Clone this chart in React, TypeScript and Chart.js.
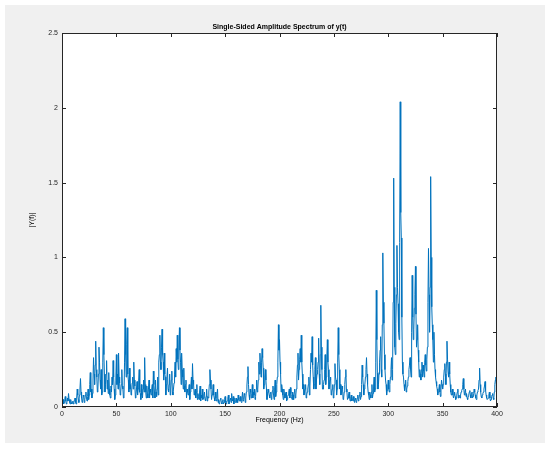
import { useEffect, useRef } from "react";
import { Chart, registerables } from "chart.js";

Chart.register(...registerables);

const TITLE = "Single-Sided Amplitude Spectrum of y(t)";
const X_LABEL = "Frequency (Hz)";
const Y_LABEL = "|Y(f)|";
const X_TICKS = [0, 50, 100, 150, 200, 250, 300, 350, 400];
const Y_TICKS = [0, 0.5, 1, 1.5, 2, 2.5];
const FREQ_STEP_HZ = 1;
const HALF_STEP_HZ = 0.5;

// |Y(f)| at whole Hz (0..400)
const AMP_000_099 = [
  0.02, 0.05, 0.03, 0.07, 0.02, 0.06, 0.09, 0.03, 0.05, 0.02,
  0.04, 0.03, 0.06, 0.02, 0.12, 0.05, 0.08, 0.19, 0.06, 0.04,
  0.07, 0.05, 0.10, 0.04, 0.12, 0.08, 0.23, 0.12, 0.09, 0.33,
  0.15, 0.44, 0.20, 0.12, 0.40, 0.18, 0.25, 0.10, 0.53, 0.22,
  0.15, 0.31, 0.18, 0.23, 0.08, 0.14, 0.20, 0.31, 0.12, 0.08,
  0.35, 0.22, 0.36, 0.16, 0.10, 0.25, 0.12, 0.08, 0.59, 0.20,
  0.53, 0.18, 0.26, 0.15, 0.10, 0.20, 0.30, 0.14, 0.08, 0.17,
  0.12, 0.25, 0.09, 0.15, 0.06, 0.18, 0.33, 0.10, 0.14, 0.06,
  0.18, 0.12, 0.08, 0.15, 0.24, 0.10, 0.18, 0.07, 0.20, 0.30,
  0.48, 0.25, 0.52, 0.30, 0.36, 0.20, 0.15, 0.26, 0.10, 0.22,
];
const AMP_100_199 = [
  0.12, 0.24, 0.08, 0.16, 0.30, 0.39, 0.48, 0.25, 0.53, 0.30,
  0.36, 0.20, 0.26, 0.10, 0.18, 0.12, 0.08, 0.15, 0.10, 0.20,
  0.29, 0.15, 0.10, 0.06, 0.15, 0.09, 0.05, 0.14, 0.08, 0.12,
  0.06, 0.10, 0.04, 0.12, 0.07, 0.10, 0.25, 0.12, 0.08, 0.15,
  0.06, 0.10, 0.04, 0.12, 0.05, 0.03, 0.06, 0.02, 0.05, 0.03,
  0.07, 0.02, 0.04, 0.08, 0.03, 0.06, 0.09, 0.04, 0.02, 0.06,
  0.03, 0.05, 0.08, 0.04, 0.07, 0.03, 0.10, 0.05, 0.08, 0.06,
  0.14, 0.27, 0.08, 0.12, 0.06, 0.15, 0.10, 0.12, 0.07, 0.18,
  0.12, 0.30, 0.36, 0.20, 0.39, 0.26, 0.15, 0.25, 0.12, 0.08,
  0.12, 0.06, 0.10, 0.08, 0.14, 0.05, 0.18, 0.10, 0.20, 0.55,
];
const AMP_200_299 = [
  0.45, 0.22, 0.15, 0.08, 0.12, 0.06, 0.10, 0.05, 0.08, 0.12,
  0.13, 0.07, 0.10, 0.05, 0.12, 0.08, 0.20, 0.36, 0.25, 0.39,
  0.48, 0.22, 0.15, 0.10, 0.15, 0.08, 0.12, 0.20, 0.14, 0.36,
  0.47, 0.20, 0.15, 0.33, 0.18, 0.25, 0.46, 0.15, 0.68, 0.25,
  0.12, 0.18, 0.35, 0.20, 0.45, 0.25, 0.15, 0.20, 0.10, 0.15,
  0.08, 0.29, 0.18, 0.12, 0.53, 0.25, 0.15, 0.10, 0.12, 0.06,
  0.15, 0.25, 0.10, 0.06, 0.10, 0.04, 0.08, 0.05, 0.07, 0.03,
  0.06, 0.04, 0.08, 0.05, 0.10, 0.07, 0.28, 0.15, 0.12, 0.20,
  0.33, 0.15, 0.08, 0.10, 0.06, 0.15, 0.09, 0.20, 0.12, 0.78,
  0.23, 0.15, 0.30, 0.47, 0.20, 1.03, 0.56, 0.25, 0.15, 0.11,
];
const AMP_300_400 = [
  0.18, 0.10, 0.20, 0.33, 0.25, 1.53, 0.40, 0.56, 1.08, 0.69,
  0.45, 2.04, 1.13, 0.30, 0.20, 0.11, 0.18, 0.12, 0.17, 0.25,
  0.33, 0.20, 0.88, 0.45, 0.66, 0.94, 0.40, 0.55, 0.30, 0.25,
  0.18, 0.30, 0.28, 0.20, 0.35, 0.24, 0.40, 1.06, 0.50, 1.54,
  0.67, 0.45, 0.50, 0.25, 0.17, 0.12, 0.10, 0.15, 0.07, 0.18,
  0.12, 0.20, 0.29, 0.15, 0.44, 0.23, 0.30, 0.15, 0.08, 0.12,
  0.06, 0.10, 0.05, 0.08, 0.12, 0.08, 0.06, 0.10, 0.12, 0.19,
  0.08, 0.12, 0.09, 0.05, 0.08, 0.11, 0.06, 0.10, 0.07, 0.12,
  0.08, 0.05, 0.10, 0.12, 0.26, 0.10, 0.06, 0.09, 0.12, 0.17,
  0.08, 0.05, 0.06, 0.10, 0.04, 0.07, 0.09, 0.05, 0.15, 0.20,
  0.12,
];

// |Y(f)| (0.5..399.5)
const HALF_000_099 = [
  0.03, 0.02, 0.05, 0.04, 0.03, 0.04, 0.05, 0.02, 0.03, 0.03,
  0.02, 0.05, 0.03, 0.06, 0.08, 0.03, 0.12, 0.10, 0.03, 0.08,
  0.03, 0.08, 0.06, 0.07, 0.05, 0.15, 0.10, 0.06, 0.18, 0.22,
  0.28, 0.25, 0.10, 0.22, 0.30, 0.12, 0.08, 0.30, 0.35, 0.10,
  0.22, 0.12, 0.09, 0.12, 0.06, 0.10, 0.15, 0.20, 0.05, 0.18,
  0.15, 0.12, 0.20, 0.08, 0.15, 0.14, 0.06, 0.30, 0.35, 0.42,
  0.22, 0.10, 0.12, 0.08, 0.16, 0.12, 0.18, 0.06, 0.12, 0.08,
  0.18, 0.10, 0.05, 0.08, 0.12, 0.10, 0.15, 0.06, 0.09, 0.12,
  0.06, 0.10, 0.12, 0.06, 0.15, 0.06, 0.10, 0.12, 0.08, 0.35,
  0.30, 0.40, 0.35, 0.18, 0.22, 0.08, 0.20, 0.12, 0.15, 0.08,
];
const HALF_100_199 = [
  0.18, 0.10, 0.12, 0.22, 0.20, 0.30, 0.32, 0.40, 0.38, 0.15,
  0.25, 0.12, 0.14, 0.15, 0.06, 0.10, 0.12, 0.05, 0.14, 0.12,
  0.18, 0.08, 0.12, 0.10, 0.05, 0.07, 0.10, 0.04, 0.06, 0.05,
  0.08, 0.05, 0.07, 0.04, 0.06, 0.15, 0.18, 0.05, 0.10, 0.08,
  0.04, 0.06, 0.08, 0.03, 0.02, 0.05, 0.03, 0.04, 0.02, 0.05,
  0.03, 0.04, 0.06, 0.02, 0.05, 0.03, 0.05, 0.07, 0.04, 0.03,
  0.06, 0.03, 0.05, 0.06, 0.04, 0.06, 0.04, 0.09, 0.03, 0.10,
  0.20, 0.15, 0.05, 0.10, 0.09, 0.06, 0.08, 0.05, 0.12, 0.10,
  0.18, 0.22, 0.28, 0.30, 0.33, 0.12, 0.20, 0.18, 0.05, 0.10,
  0.08, 0.09, 0.05, 0.11, 0.08, 0.12, 0.07, 0.15, 0.30, 0.38,
];
const HALF_200_299 = [
  0.30, 0.10, 0.12, 0.05, 0.09, 0.08, 0.04, 0.07, 0.10, 0.06,
  0.09, 0.05, 0.08, 0.10, 0.06, 0.12, 0.28, 0.18, 0.32, 0.30,
  0.30, 0.12, 0.08, 0.12, 0.06, 0.10, 0.15, 0.08, 0.25, 0.30,
  0.28, 0.12, 0.25, 0.12, 0.22, 0.30, 0.22, 0.35, 0.40, 0.12,
  0.15, 0.25, 0.15, 0.32, 0.30, 0.12, 0.18, 0.08, 0.12, 0.06,
  0.15, 0.20, 0.08, 0.30, 0.35, 0.12, 0.08, 0.14, 0.05, 0.10,
  0.20, 0.12, 0.05, 0.08, 0.06, 0.06, 0.04, 0.06, 0.04, 0.05,
  0.03, 0.06, 0.04, 0.08, 0.05, 0.15, 0.20, 0.08, 0.15, 0.25,
  0.22, 0.10, 0.05, 0.08, 0.10, 0.06, 0.14, 0.10, 0.30, 0.45,
  0.12, 0.22, 0.38, 0.25, 0.55, 0.70, 0.35, 0.18, 0.08, 0.14,
];
const HALF_300_399 = [
  0.12, 0.15, 0.25, 0.18, 0.70, 0.80, 0.35, 0.75, 0.80, 0.50,
  1.10, 1.30, 0.60, 0.22, 0.15, 0.14, 0.10, 0.14, 0.20, 0.28,
  0.25, 0.50, 0.60, 0.52, 0.75, 0.62, 0.45, 0.38, 0.20, 0.22,
  0.25, 0.20, 0.24, 0.30, 0.28, 0.32, 0.70, 0.75, 0.80, 1.00,
  0.55, 0.30, 0.35, 0.20, 0.14, 0.08, 0.12, 0.10, 0.12, 0.15,
  0.15, 0.25, 0.22, 0.30, 0.32, 0.20, 0.22, 0.10, 0.10, 0.08,
  0.08, 0.07, 0.06, 0.10, 0.06, 0.07, 0.08, 0.11, 0.15, 0.12,
  0.10, 0.07, 0.06, 0.07, 0.10, 0.08, 0.09, 0.06, 0.09, 0.10,
  0.06, 0.08, 0.11, 0.18, 0.15, 0.07, 0.08, 0.10, 0.14, 0.11,
  0.06, 0.05, 0.08, 0.06, 0.05, 0.08, 0.06, 0.10, 0.18, 0.14,
];

const AMPLITUDE = [...AMP_000_099, ...AMP_100_199, ...AMP_200_299, ...AMP_300_400];
const AMPLITUDE_HALF = [...HALF_000_099, ...HALF_100_199, ...HALF_200_299, ...HALF_300_399];

const FONT = "'Liberation Sans', Arial, Helvetica, sans-serif";
const AXIS_COLOR = "#262626";
const LINE_COLOR = "#0072BD";

const framePlugin = {
  id: "matlabFrame",
  beforeDraw(chart: any) {
    const { ctx, chartArea: a, width, height } = chart;
    ctx.save();
    ctx.fillStyle = "#ffffff";
    ctx.fillRect(0, 0, width, height);
    ctx.fillStyle = "#f0f0f0";
    ctx.fillRect(5, 5, 540, 438);
    ctx.fillStyle = "#ffffff";
    ctx.fillRect(a.left, a.top, a.right - a.left, a.bottom - a.top);
    ctx.restore();
  },
  afterDraw(chart: any) {
    const { ctx, chartArea: a, scales } = chart;
    const tl = 4;
    ctx.save();
    ctx.strokeStyle = AXIS_COLOR;
    ctx.lineWidth = 1;
    ctx.beginPath();
    X_TICKS.forEach((v) => {
      const px = Math.round(scales.x.getPixelForValue(v)) + 0.5;
      ctx.moveTo(px, a.bottom);
      ctx.lineTo(px, a.bottom - tl);
      ctx.moveTo(px, a.top);
      ctx.lineTo(px, a.top + tl);
    });
    Y_TICKS.forEach((v) => {
      const py = Math.round(scales.y.getPixelForValue(v)) + 0.5;
      ctx.moveTo(a.left, py);
      ctx.lineTo(a.left + tl, py);
      ctx.moveTo(a.right, py);
      ctx.lineTo(a.right - tl, py);
    });
    ctx.stroke();
    ctx.strokeRect(
      Math.round(a.left) + 0.5,
      Math.round(a.top) + 0.5,
      Math.round(a.right - a.left) - 1,
      Math.round(a.bottom - a.top) - 1
    );
    ctx.restore();
  },
};

export default function App() {
  const ref = useRef<HTMLCanvasElement | null>(null);

  useEffect(() => {
    if (!ref.current) return;
    const points: { x: number; y: number }[] = [];
    AMPLITUDE.forEach((v, i) => {
      points.push({ x: i * FREQ_STEP_HZ, y: v });
      if (i < AMPLITUDE_HALF.length) {
        points.push({ x: i * FREQ_STEP_HZ + HALF_STEP_HZ, y: AMPLITUDE_HALF[i] });
      }
    });
    const chart = new Chart(ref.current, {
      type: "line",
      data: {
        datasets: [
          {
            data: points,
            borderColor: LINE_COLOR,
            borderWidth: 1,
            pointRadius: 0,
            tension: 0,
            fill: false,
          },
        ],
      },
      options: {
        animation: false,
        responsive: false,
        devicePixelRatio: 1,
        layout: { padding: { left: 27.8, right: 53, top: 23, bottom: 24.8 } },
        plugins: {
          legend: { display: false },
          tooltip: { enabled: false },
          title: {
            display: true,
            text: TITLE,
            fullSize: false,
            color: "#000000",
            font: { family: FONT, size: 7, weight: "bold" },
            padding: { top: 0, bottom: 1.6 },
          },
        },
        scales: {
          x: {
            type: "linear",
            min: 0,
            max: 400,
            grid: { display: false, drawTicks: false },
            border: { display: false },
            ticks: {
              stepSize: 50,
              padding: 3,
              color: AXIS_COLOR,
              font: { family: FONT, size: 7 },
              maxRotation: 0,
            },
            title: {
              display: true,
              text: X_LABEL,
              color: "#000000",
              font: { family: FONT, size: 7 },
              padding: 0,
            },
            afterFit(scale: any) {
              scale.height = 17.2;
            },
          },
          y: {
            type: "linear",
            min: 0,
            max: 2.5,
            grid: { display: false, drawTicks: false },
            border: { display: false },
            ticks: {
              stepSize: 0.5,
              padding: 4,
              color: AXIS_COLOR,
              font: { family: FONT, size: 7 },
              callback: (v: any) => String(Number(v)),
            },
            title: {
              display: true,
              text: Y_LABEL,
              color: "#000000",
              font: { family: FONT, size: 7 },
              padding: 0,
            },
            afterFit(scale: any) {
              scale.width = 34.2;
            },
          },
        },
      },
      plugins: [framePlugin],
    });
    return () => chart.destroy();
  }, []);

  return (
    <div style={{ position: "fixed", left: 0, top: 0, width: 550, height: 449, background: "#fff" }}>
      <canvas ref={ref} width={550} height={449} style={{ width: 550, height: 449, display: "block" }} />
    </div>
  );
}
